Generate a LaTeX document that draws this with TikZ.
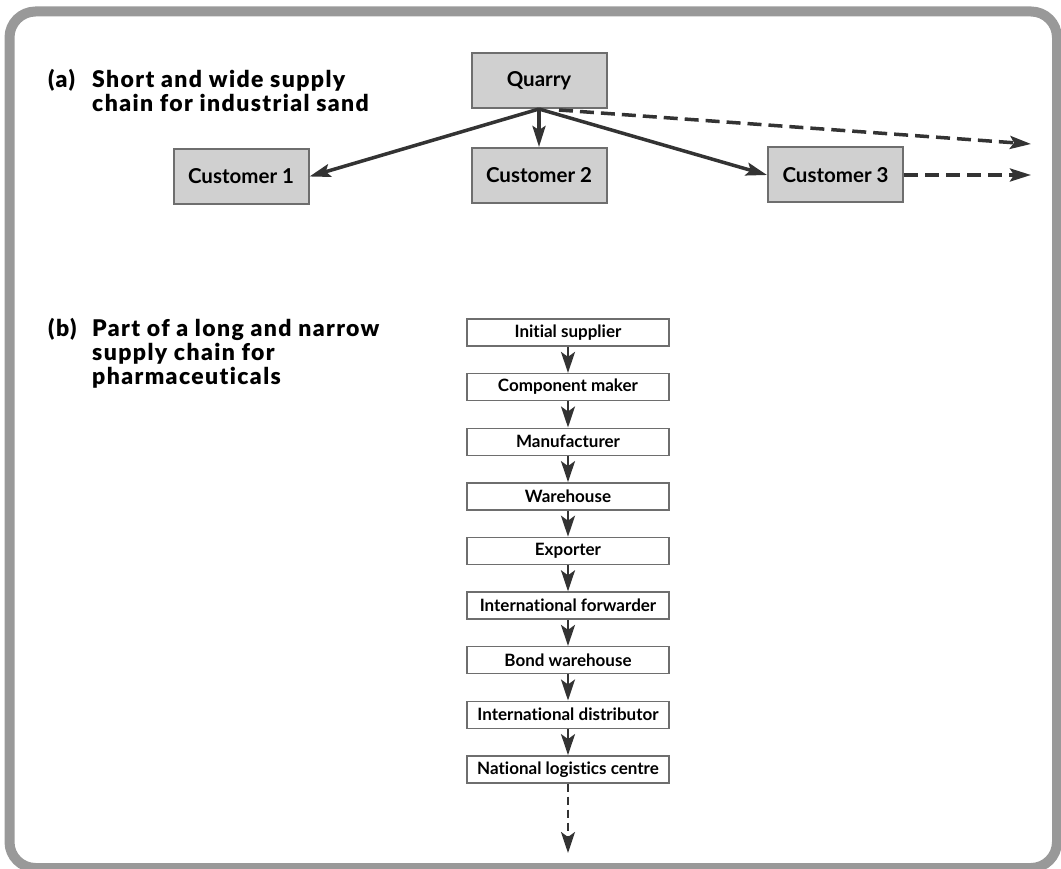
\documentclass[tikz,border=0pt]{standalone}
\usepackage{fontspec}
\setmainfont{Lato}[Ligatures=NoCommon]
\newfontfamily\headfont{Lato Black}[Ligatures=NoCommon,LetterSpace=6]
\usetikzlibrary{arrows.meta,calc}
\definecolor{framegray}{HTML}{999999}
\definecolor{boxfill}{HTML}{D0D0D0}
\definecolor{boxline}{HTML}{6E6E6E}
\definecolor{ink}{HTML}{333333}
\tikzset{
  partner/.style={draw=boxline, fill=boxfill, line width=2pt, minimum width=135pt,
    minimum height=55pt, inner sep=0pt, font=\fontsize{20.5}{24}\selectfont\bfseries},
  link/.style={draw=boxline, fill=white, line width=1.4pt, minimum width=202pt,
    minimum height=27pt, inner sep=0pt, font=\fontsize{17}{20}\selectfont\bfseries},
  flow/.style={ink, line width=3.5pt, -{Stealth[length=21pt,width=13pt,inset=4pt]}},
  onward/.style={flow, dash pattern=on 14pt off 7pt},
  chainflow/.style={ink, line width=2.5pt, -{Stealth[length=21pt,width=14pt,inset=5pt]}},
  chainonward/.style={chainflow, dash pattern=on 8pt off 5pt},
  heading/.style={anchor=base west, inner sep=0pt, text=black,
    font=\fontsize{23}{21}\selectfont\headfont},
}
\begin{document}
\begin{tikzpicture}[x=1pt,y=-1pt]
\useasboundingbox (0,0) rectangle (1061,869);
% outer frame
\draw[framegray, line width=10pt, rounded corners=26pt] (9.5,11.5) rectangle (1057,868);

% (a) short and wide chain
\node[heading] (la) at (48,88) {(a)};
\node[heading] (ha) at (92,88) {\begin{tabular}[t]{@{}l@{}}Short and wide supply\\ chain for industrial sand\end{tabular}};
\node[partner] (q) at (539,80.5) {Quarry};
\node[partner] (c1) at (241,176.5) {Customer 1};
\node[partner] (c2) at (539,175.5) {Customer 2};
\node[partner] (c3) at (835.5,175) {Customer 3};
\coordinate (qd) at ($(q.south)+(20,1)$);
\coordinate (far1) at (1031,144);
\coordinate (far2) at (1031,175);
\draw[flow] (q.south) -- (c1.east);
\draw[flow] (q.south) -- (c2.north);
\draw[flow] (q.south) -- (c3.west);
\draw[onward] (qd) -- (far1);
\draw[onward] (c3.east) -- (far2);

% (b) long and narrow chain
\node[heading] (lb) at (48,337) {(b)};
\node[heading] (hb) at (92,337) {\begin{tabular}[t]{@{}l@{}}Part of a long and narrow\\ supply chain for\\ pharmaceuticals\end{tabular}};
\node[link] (s1) at (568,332.5) {Initial supplier};
\node[link] (s2) at (568,387.1) {Component maker};
\node[link] (s3) at (568,441.7) {Manufacturer};
\node[link] (s4) at (568,496.3) {Warehouse};
\node[link] (s5) at (568,550.9) {Exporter};
\node[link] (s6) at (568,605.5) {International forwarder};
\node[link] (s7) at (568,660.1) {Bond warehouse};
\node[link] (s8) at (568,714.7) {International distributor};
\node[link] (s9) at (568,769.3) {National logistics centre};
\coordinate (beyond) at (568,853);
\foreach \a/\b in {s1/s2,s2/s3,s3/s4,s4/s5,s5/s6,s6/s7,s7/s8,s8/s9}
  \draw[chainflow] (\a.south) -- (\b.north);
\draw[chainonward] (s9.south) -- (beyond);
\end{tikzpicture}
\end{document}
